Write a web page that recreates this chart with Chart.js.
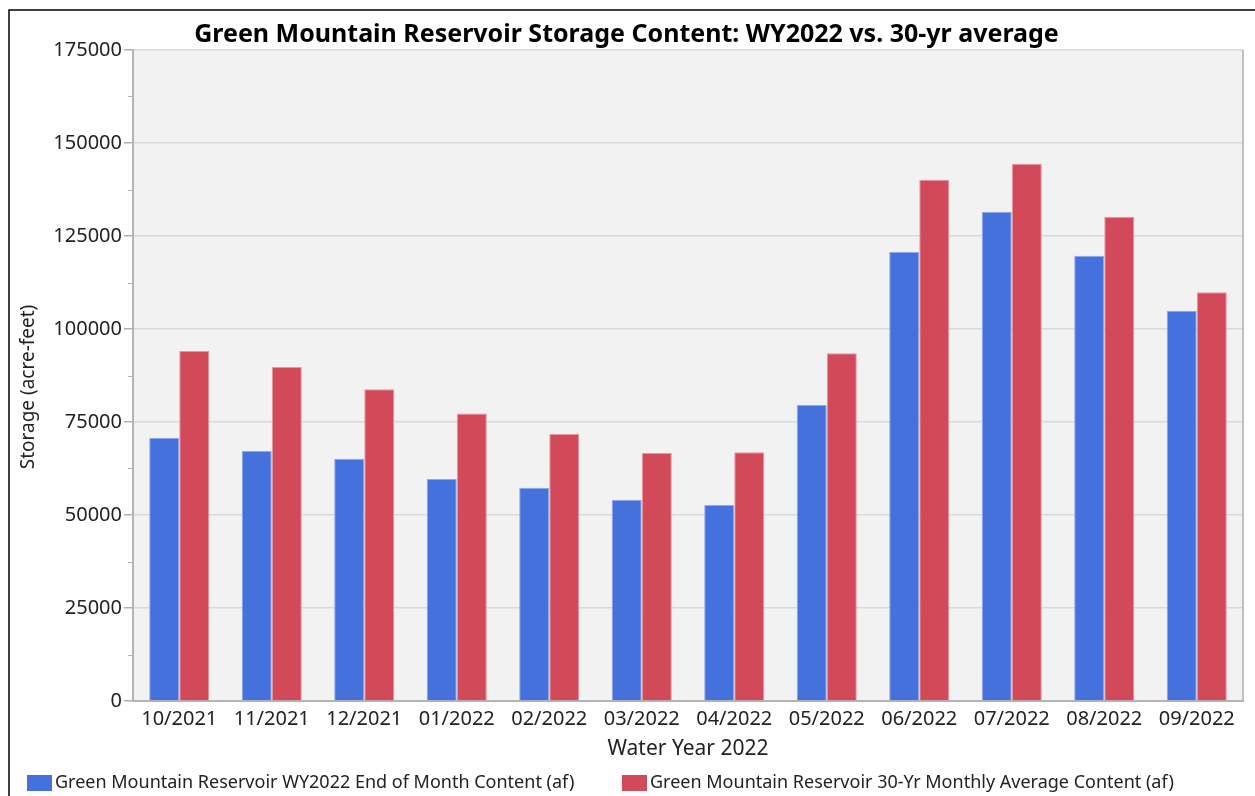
<!DOCTYPE html>
<html>
<head>
<meta charset="utf-8">
<script src="https://cdn.jsdelivr.net/npm/chart.js@4"></script>
<style>
  html, body { margin: 0; padding: 0; background: #fff; }
  #wrap { width: 1255px; height: 796px; position: relative; }
</style>
</head>
<body>
<div id="wrap"><canvas id="storage-chart" width="1255" height="796"></canvas></div>
<script>
// chart data
const months = ['10/2021', '11/2021', '12/2021', '01/2022', '02/2022', '03/2022',
                '04/2022', '05/2022', '06/2022', '07/2022', '08/2022', '09/2022'];
const wy2022Content = [70700, 67200, 65100, 59700, 57300, 54000, 52700, 79600, 120700, 131500, 119700, 104900];
const avg30yrContent = [94100, 89800, 83800, 77300, 71800, 66700, 66900, 93500, 140100, 144400, 130200, 109900];
const seriesNames = ['Green Mountain Reservoir WY2022 End of Month Content (af)',
                     'Green Mountain Reservoir 30-Yr Monthly Average Content (af)'];
const yTicks = [0, 25000, 50000, 75000, 100000, 125000, 150000, 175000];

const FONT = 'Noto Sans, Open Sans, sans-serif';
const blue = '#4571dc';
const red = '#d24a5a';

// plot background, frame, minor ticks, y title and legend
const decorations = {
    id: 'decorations',
    beforeDraw(chart) {
        const { ctx, chartArea: a } = chart;
        ctx.save();
        ctx.fillStyle = '#f2f2f2';
        ctx.fillRect(a.left, a.top, a.right - a.left, a.bottom - a.top);
        ctx.restore();
    },
    afterDraw(chart) {
        const { ctx, chartArea: a } = chart;
        const y = chart.scales.y;
        ctx.save();
        // outer black frame (left + top)
        ctx.strokeStyle = '#000';
        ctx.lineWidth = 1.5;
        ctx.beginPath();
        ctx.moveTo(9, 800);
        ctx.lineTo(9, 10);
        ctx.lineTo(1260, 10);
        ctx.stroke();

        // right border of plot
        ctx.strokeStyle = '#c0c0c0';
        ctx.lineWidth = 2;
        ctx.beginPath();
        ctx.moveTo(a.right, a.top);
        ctx.lineTo(a.right, a.bottom);
        ctx.stroke();

        // minor ticks halfway between labels
        ctx.strokeStyle = '#b0b0b0';
        ctx.lineWidth = 1;
        for (let i = 0; i < yTicks.length - 1; i++) {
            const py = Math.round(y.getPixelForValue((yTicks[i] + yTicks[i + 1]) / 2)) + 0.5;
            ctx.beginPath();
            ctx.moveTo(a.left - 5, py);
            ctx.lineTo(a.left, py);
            ctx.stroke();
        }

        // y axis title
        ctx.fillStyle = '#222';
        ctx.font = '19px ' + FONT;
        ctx.textAlign = 'center';
        ctx.textBaseline = 'middle';
        ctx.translate(29, 387);
        ctx.rotate(-Math.PI / 2);
        ctx.fillText('Storage (acre-feet)', 0, 0);
        ctx.restore();

        // legend at the bottom, left aligned
        ctx.save();
        ctx.font = '18px ' + FONT;
        ctx.textBaseline = 'middle';
        ctx.textAlign = 'left';
        const legendX = [27, 622];
        chart.data.datasets.forEach((ds, i) => {
            ctx.fillStyle = ds.backgroundColor;
            ctx.fillRect(legendX[i], 775, 25, 16);
            ctx.fillStyle = '#222';
            ctx.fillText(ds.label, legendX[i] + 28, 783);
        });
        ctx.restore();
    }
};

new Chart(document.getElementById('storage-chart'), {
    type: 'bar',
    data: {
        labels: months,
        datasets: [
            { label: seriesNames[0], data: wy2022Content, backgroundColor: blue, borderColor: '#8fa9ea', borderWidth: 1 },
            { label: seriesNames[1], data: avg30yrContent, backgroundColor: red, borderColor: '#e898a2', borderWidth: 1 }
        ]
    },
    options: {
        responsive: false,
        animation: false,
        devicePixelRatio: 1,
        layout: { padding: { left: 10, right: 12, top: 0, bottom: 30 } },
        datasets: { bar: { barPercentage: 1, categoryPercentage: 0.65 } },
        plugins: {
            legend: { display: false },
            tooltip: { enabled: false },
            title: {
                display: true,
                text: 'Green Mountain Reservoir Storage Content: WY2022 vs. 30-yr average',
                color: '#000',
                font: { family: FONT, size: 25, weight: 'bold', lineHeight: 1.2 },
                padding: { top: 20, bottom: 0 }
            }
        },
        scales: {
            x: {
                grid: { display: false },
                border: { color: '#b4b4b4', width: 2 },
                ticks: { color: '#222', font: { family: FONT, size: 20 }, padding: -2, maxRotation: 0 },
                title: {
                    display: true,
                    text: 'Water Year 2022',
                    color: '#222',
                    font: { family: FONT, size: 21 },
                    padding: { top: 0, bottom: 4 }
                },
                afterFit(scale) { scale.height = 65; }
            },
            y: {
                min: 0,
                max: 175000,
                grid: { color: '#d9d9d9', tickColor: '#b0b0b0', tickLength: 9, lineWidth: 1.5 },
                border: { color: '#b4b4b4', width: 2 },
                ticks: {
                    stepSize: 25000,
                    color: '#222',
                    font: { family: FONT, size: 20 },
                    padding: 2,
                    callback: v => String(v)
                },
                afterFit(scale) { scale.width = 123; }
            }
        }
    },
    plugins: [decorations]
});
</script>
</body>
</html>
